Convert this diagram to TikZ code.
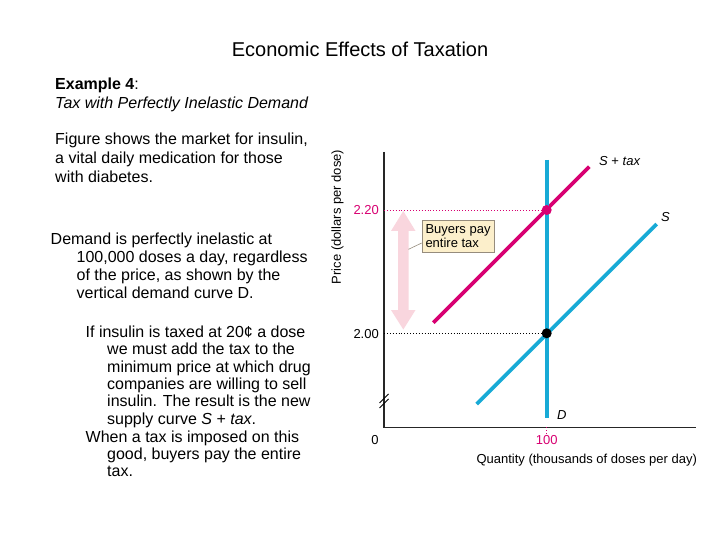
\documentclass[tikz,border=0pt]{standalone}
\usepackage{fontspec}
\setmainfont{Liberation Sans}
\definecolor{magline}{RGB}{216,0,114}
\definecolor{cyanline}{RGB}{24,170,214}
\definecolor{lightpink}{RGB}{249,214,222}
\definecolor{boxfill}{RGB}{252,239,203}
\definecolor{boxedge}{RGB}{150,140,125}
\begin{document}
\begin{tikzpicture}[x=1pt,y=-1pt,
  body/.style={anchor=base west,inner sep=0pt,font=\fontsize{16}{18}\selectfont},
  glab/.style={inner sep=0pt,font=\fontsize{13}{14.5}\selectfont},
  curve/.style={line width=3.8pt},
  axisline/.style={line width=1.1pt,black!85}]
\useasboundingbox (0,0) rectangle (720,540);
\fill[white] (0,0) rectangle (720,540);
% title
\node[anchor=base,inner sep=0pt,font=\fontsize{20}{24}\selectfont] (title) at (360,56.7) {Economic Effects of Taxation};
% left text
\node[body] (h1) at (55,90) {\textbf{Example 4}:};
\node[body] (h2) at (55,108.3) {\textit{Tax with Perfectly Inelastic Demand}};
\node[body] (f1) at (55,145) {Figure shows the market for insulin,};
\node[body] (f2) at (55,163.7) {a vital daily medication for those};
\node[body] (f3) at (55,182.3) {with diabetes.};
\node[body] (d1) at (50.5,244) {Demand is perfectly inelastic at};
\node[body] (d2) at (76.5,262) {100,000 doses a day, regardless};
\node[body] (d3) at (76.5,280) {of the price, as shown by the};
\node[body] (d4) at (76.5,298) {vertical demand curve D.};
\node[body] (i1) at (85.5,337.3) {If insulin is taxed at 20¢ a dose};
\node[body] (i2) at (107,354.7) {we must add the tax to the};
\node[body] (i3) at (107,372) {minimum price at which drug};
\node[body] (i4) at (107,389.5) {companies are willing to sell};
\node[body] (i5) at (107,406.8) {insulin. The result is the new};
\node[body] (i6) at (107,424.1) {supply curve \textit{S} + \textit{tax}.};
\node[body] (w1) at (85.5,442) {When a tax is imposed on this};
\node[body] (w2) at (107,459.3) {good, buyers pay the entire};
\node[body] (w3) at (107,476.7) {tax.};
% axes
\coordinate (ytop) at (384,152);
\coordinate (orig) at (384,427.3);
\coordinate (xend) at (696,427.3);
\draw[axisline] (ytop) -- (orig) -- (xend);
\draw[line width=0.8pt] (379.5,403) -- (388.5,394);
\draw[line width=0.8pt] (379.5,408) -- (388.5,399);
% reference points
\coordinate (q) at (546.7,427.3);
\coordinate (qt) at (546.7,434);
\coordinate (p2) at (384,210);
\coordinate (p0) at (384,333.3);
\coordinate (e2) at (546.7,210);
\coordinate (e0) at (546.7,333.3);
\draw[magline,dotted,line width=0.9pt] (p2) -- (e2);
\draw[black,dotted,line width=0.9pt] (p0) -- (e0);
\draw[magline,dotted,line width=0.9pt] (q) -- (qt);
% arrow
\fill[lightpink] (403.3,211) -- (415.5,231) -- (408.5,231) -- (408.5,310) -- (415.5,310) -- (403.3,329.5) -- (391,310) -- (398.2,310) -- (398.2,231) -- (391,231) -- cycle;
% curves
\coordinate (dtop) at (546.7,160);
\coordinate (dbot) at (546.7,418);
\coordinate (sa) at (476.7,404);
\coordinate (sb) at (656.7,224);
\coordinate (ta) at (433.3,322.7);
\coordinate (tb) at (589.3,166.7);
\draw[curve,cyanline] (sa) -- (sb);
\draw[curve,magline] (ta) -- (tb);
\draw[curve,cyanline] (dtop) -- (dbot);
\fill[magline] (e2) circle (5);
\fill[black] (e0) circle (5);
% callout box
\node[glab,draw=boxedge,line width=0.6pt,fill=boxfill,align=left,anchor=north west,
  minimum width=71pt,minimum height=31.7pt,inner xsep=3.5pt,inner ysep=2pt] (box) at (421.7,220) {Buyers pay\\entire tax};
\coordinate (lead) at (408.5,249.3);
\draw[boxedge,line width=0.6pt] (box.west |- 0,243) -- (lead);
% labels
\node[glab,anchor=base east,text=magline] (l220) at (379,214.5) {2.20};
\node[glab,anchor=base east] (l200) at (379,338) {2.00};
\node[glab,anchor=base] (l0) at (375,444.5) {0};
\node[glab,anchor=base,text=magline] (l100) at (546.7,444.5) {100};
\node[glab,anchor=base] (xl) at (586.7,463.5) {Quantity (thousands of doses per day)};
\node[glab,rotate=90] (yl) at (337.5,217) {Price (dollars per dose)};
\node[glab,anchor=base west] (dl) at (557,419.3) {\textit{D}};
\node[glab,anchor=base west] (sl) at (661,221.7) {\textit{S}};
\node[glab,anchor=base west] (stl) at (599,166) {\textit{S} + \textit{tax}};
\end{tikzpicture}
\end{document}
